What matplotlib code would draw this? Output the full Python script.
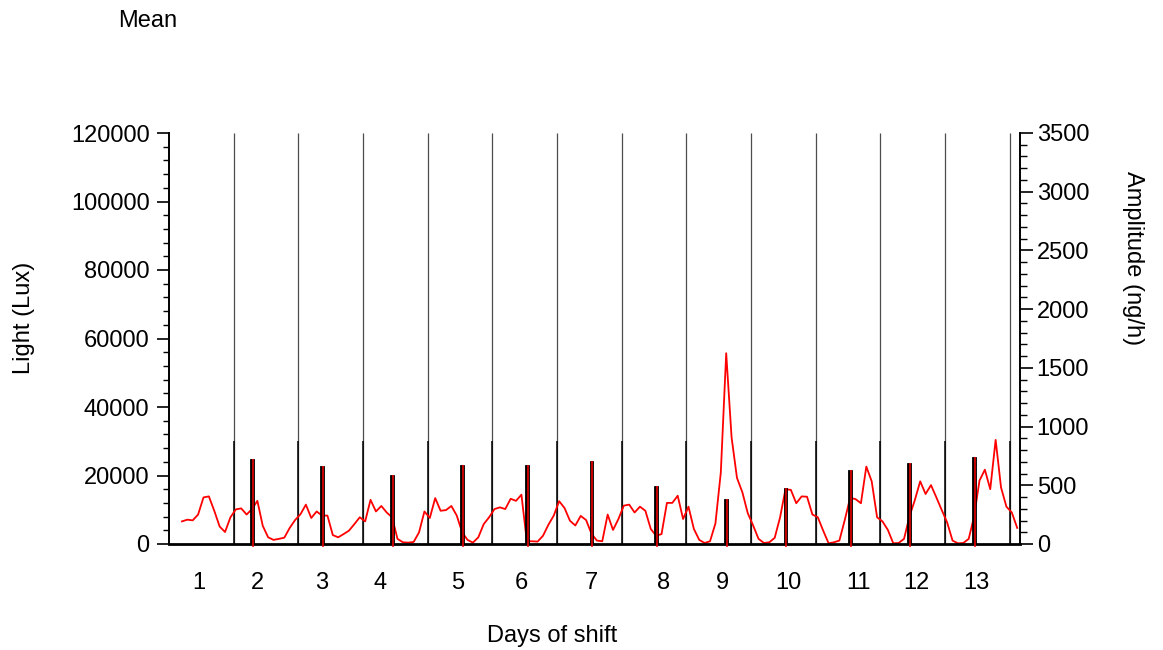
import matplotlib
matplotlib.use("Agg")
import matplotlib.pyplot as plt
import numpy as np
from matplotlib.ticker import MultipleLocator

plt.rcParams["font.family"] = ["Liberation Sans", "DejaVu Sans"]

# light readings every 2 h (lux), first reading 0.2 day into the shift
light_lux = [
    6600, 7100, 6900, 8600, 13600, 13900, 9700, 5100, 3500, 7800, 10100, 10400,
    8600, 10200, 12600, 5300, 1950, 1200, 1500, 1850, 4700, 7000, 8700, 11500,
    7600, 9500, 8300, 8300, 2600, 1950, 2900, 3900, 5800, 7800, 6600, 12900,
    9500, 11100, 9200, 7800, 1500, 500, 400, 600, 3400, 9500, 7600, 13400,
    9700, 9900, 11100, 8300, 3400, 1200, 400, 1950, 5800, 7800, 10200, 10700,
    10200, 13200, 12600, 14400, 800, 800, 700, 2400, 5600, 8300, 12500, 10500,
    6800, 5400, 8200, 7000, 3000, 1000, 800, 8600, 4100, 7300, 11200, 11500,
    9200, 10900, 9700, 4400, 2400, 2900, 12000, 12000, 14100, 7300, 10900, 4400,
    1200, 300, 800, 6000, 20900, 55700, 31100, 19300, 15100, 9000, 5400, 1500,
    300, 500, 1800, 7800, 16000, 15800, 11900, 13900, 13800, 8600, 7800, 3900,
    200, 500, 1000, 7000, 13500, 13100, 11900, 22600, 18300, 7800, 6600, 4100,
    200, 300, 1500, 8000, 12800, 18300, 14600, 17200, 13600, 9900, 6300, 1000,
    200, 300, 1500, 8000, 18500, 21700, 16000, 30400, 16500, 10900, 9200, 4700,
]
first_sample_day = 0.2
sample_step_day = 2 / 24

# amplitude bars (ng/h) and their times (days)
bar_days = [1.283, 2.367, 3.45, 4.533, 5.533, 6.533, 7.533, 8.617, 9.533,
            10.533, 11.45, 12.45]
amplitude = [720, 668, 589, 671, 671, 703, 498, 382, 473, 626, 688, 739]

day_bounds = list(range(1, 14))
day_labels = [str(d) for d in range(1, 14)]
day_label_pos = [0.46, 1.365, 2.356, 3.26, 4.466, 5.455, 6.535, 7.65, 8.56,
                 9.576, 10.67, 11.55, 12.48]

t = first_sample_day + sample_step_day * np.arange(len(light_lux))

fig = plt.figure(figsize=(11.63, 6.5), dpi=100)
ax = fig.add_axes([169 / 1163, 1 - 544 / 650, (1020 - 169) / 1163, (544 - 133) / 650])
ax2 = ax.twinx()

ax.vlines(day_bounds, 0, 120000, color="0.3", lw=0.9)
ax.vlines(day_bounds, 0, 30000, color="black", lw=1.1)
ax.plot(t, light_lux, color="red", lw=1.3)

ax.set_xlim(0, 13.16)
ax.set_ylim(0, 120000)
ax2.set_ylim(0, 3500)

ax2.bar(bar_days, amplitude, width=0.06, color="black", edgecolor="black", lw=0.6)
ax2.vlines(np.array(bar_days) + 0.014, -25, amplitude, color="red", lw=1.1,
           clip_on=False)

for a in (ax, ax2):
    a.spines["top"].set_visible(False)
ax.spines["right"].set_visible(False)
ax2.spines["left"].set_visible(False)
ax2.spines["bottom"].set_visible(False)
ax.spines["left"].set_linewidth(1.4)
ax.spines["bottom"].set_linewidth(2.0)
ax2.spines["right"].set_linewidth(1.4)

ax.set_yticks(np.arange(0, 120001, 20000))
ax.yaxis.set_minor_locator(MultipleLocator(4000))
ax.tick_params(axis="y", which="major", length=9, width=1.2, pad=5, labelsize=17)
ax.tick_params(axis="y", which="minor", length=4.5, width=1)
ax2.set_yticks(np.arange(0, 3501, 500))
ax2.yaxis.set_minor_locator(MultipleLocator(100))
ax2.tick_params(axis="y", which="major", length=9, width=1.2, pad=3, labelsize=17)
ax2.tick_params(axis="y", which="minor", length=5, width=1)

ax.set_xticks(day_label_pos, day_labels)
ax.tick_params(axis="x", length=0, pad=20, labelsize=17)

fig.text(552 / 1163, 1 - 636 / 650, "Days of shift", ha="center", va="center", fontsize=17)
fig.text(24 / 1163, 1 - 318 / 650, "Light (Lux)", ha="center", va="center",
         rotation=90, fontsize=17)
fig.text(1133 / 1163, 1 - 258 / 650, "Amplitude (ng/h)", ha="center", va="center",
         rotation=-90, fontsize=17)
fig.text(118 / 1163, 1 - 21 / 650, "Mean", ha="left", va="center", fontsize=17)

fig.savefig("out.png", dpi=100)
